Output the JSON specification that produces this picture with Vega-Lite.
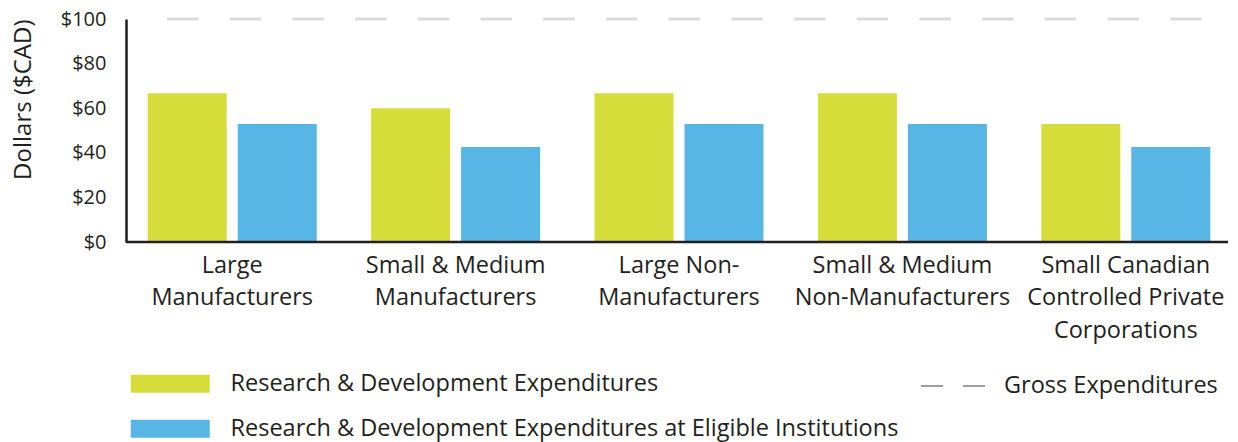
{
  "$schema": "https://vega.github.io/schema/vega-lite/v6.json",
  "autosize": "none",
  "width": 1117,
  "height": 223,
  "padding": {"left": 120.5, "top": 19, "right": 0.5, "bottom": 200},
  "background": "white",
  "config": {
    "view": {"stroke": null},
    "font": "Open Sans",
    "axis": {"labelFont": "Open Sans", "titleFont": "Open Sans", "labelColor": "#231f20", "titleColor": "#231f20"},
    "legend": {"labelFont": "Open Sans", "labelColor": "#231f20"}
  },
  "datasets": {
    "bars": [
      {"category": "Large Manufacturers", "series": "Research & Development Expenditures", "value": 66.7},
      {"category": "Large Manufacturers", "series": "Research & Development Expenditures at Eligible Institutions", "value": 52.9},
      {"category": "Small & Medium Manufacturers", "series": "Research & Development Expenditures", "value": 60},
      {"category": "Small & Medium Manufacturers", "series": "Research & Development Expenditures at Eligible Institutions", "value": 42.6},
      {"category": "Large Non-Manufacturers", "series": "Research & Development Expenditures", "value": 66.7},
      {"category": "Large Non-Manufacturers", "series": "Research & Development Expenditures at Eligible Institutions", "value": 52.9},
      {"category": "Small & Medium Non-Manufacturers", "series": "Research & Development Expenditures", "value": 66.7},
      {"category": "Small & Medium Non-Manufacturers", "series": "Research & Development Expenditures at Eligible Institutions", "value": 52.9},
      {"category": "Small Canadian Controlled Private Corporations", "series": "Research & Development Expenditures", "value": 52.9},
      {"category": "Small Canadian Controlled Private Corporations", "series": "Research & Development Expenditures at Eligible Institutions", "value": 42.6}
    ],
    "gross": [
      {"series": "Gross Expenditures", "value": 100, "from": "Large Manufacturers", "to": "Small Canadian Controlled Private Corporations"}
    ],
    "baseline": [
      {"value": 0, "from": "Large Manufacturers", "to": "Small Canadian Controlled Private Corporations"}
    ]
  },
  "layer": [
    {
      "data": {"name": "bars"},
      "mark": {"type": "bar"},
      "encoding": {
        "x": {
          "field": "category",
          "type": "nominal",
          "title": null,
          "scale": {
            "domain": ["Large Manufacturers", "Small & Medium Manufacturers", "Large Non-Manufacturers", "Small & Medium Non-Manufacturers", "Small Canadian Controlled Private Corporations"],
            "paddingInner": 0,
            "paddingOuter": 0
          },
          "axis": {
            "labelAngle": 0,
            "labelFontSize": 23.5,
            "labelLineHeight": 32.5,
            "labelPadding": 11,
            "labelBaseline": "top",
            "labelLimit": 500,
            "ticks": false,
            "domain": false,
            "labelExpr": "datum.value == 'Large Manufacturers' ? ['Large','Manufacturers'] : datum.value == 'Small & Medium Manufacturers' ? ['Small & Medium','Manufacturers'] : datum.value == 'Large Non-Manufacturers' ? ['Large Non-','Manufacturers'] : datum.value == 'Small & Medium Non-Manufacturers' ? ['Small & Medium','Non-Manufacturers'] : ['Small Canadian','Controlled Private','Corporations']"
          }
        },
        "xOffset": {
          "field": "series",
          "type": "nominal",
          "scale": {
            "domain": ["Research & Development Expenditures", "Research & Development Expenditures at Eligible Institutions"],
            "paddingInner": 0.1222,
            "paddingOuter": 0.302
          }
        },
        "y": {
          "field": "value",
          "type": "quantitative",
          "title": "Dollars ($CAD)",
          "scale": {"domain": [0, 100], "nice": false},
          "axis": {
            "offset": -5.5,
            "values": [0, 20, 40, 60, 80, 100],
            "format": "$d",
            "grid": false,
            "ticks": false,
            "labelFontSize": 20,
            "labelPadding": 20,
            "domainColor": "#231f20",
            "domainWidth": 2.5,
            "titleFontSize": 24,
            "titleFontWeight": "normal",
            "titleAnchor": "end",
            "titlePadding": 25
          }
        },
        "color": {
          "field": "series",
          "type": "nominal",
          "scale": {
            "domain": ["Research & Development Expenditures", "Research & Development Expenditures at Eligible Institutions"],
            "range": ["#d6dd3a", "#58b6e6"]
          },
          "legend": {
            "orient": "none",
            "legendX": 38,
            "legendY": 353,
            "direction": "vertical",
            "title": null,
            "padding": 0,
            "symbolType": "M-4.389,-1H4.389V1H-4.389Z",
            "symbolSize": 324,
            "symbolStrokeWidth": 0,
            "symbolOpacity": 1,
            "labelOffset": 48.5,
            "labelFontSize": 23.5,
            "labelLimit": 800,
            "rowPadding": 20
          }
        }
      }
    },
    {
      "data": {"name": "baseline"},
      "mark": {"type": "rule", "color": "#231f20", "strokeWidth": 2.5},
      "encoding": {
        "x": {"field": "from", "type": "nominal", "bandPosition": 0.0246},
        "x2": {"field": "to", "bandPosition": 0.9575},
        "y": {"field": "value", "type": "quantitative"}
      }
    },
    {
      "data": {"name": "gross"},
      "mark": {"type": "rule", "color": "#dcdcdc", "strokeWidth": 3, "strokeDash": [31.5, 31.2]},
      "encoding": {
        "x": {"field": "from", "type": "nominal", "bandPosition": 0.2081},
        "x2": {"field": "to", "bandPosition": 0.841},
        "y": {"field": "value", "type": "quantitative"}
      }
    },
    {
      "data": {"name": "gross"},
      "mark": {"type": "rule", "color": "#a0a0a0", "strokeWidth": 2},
      "encoding": {
        "x": {"field": "from", "type": "nominal", "bandPosition": 0.2081},
        "x2": {"field": "from", "bandPosition": 0.2081},
        "y": {"field": "value", "type": "quantitative"},
        "strokeDash": {
          "field": "series",
          "type": "nominal",
          "scale": {"domain": ["Gross Expenditures"], "range": [[22, 20]]},
          "legend": {
            "orient": "none",
            "legendX": 799.5,
            "legendY": 334,
            "title": null,
            "padding": 0,
            "symbolType": "stroke",
            "symbolSize": 4096,
            "symbolStrokeWidth": 2,
            "labelOffset": 18,
            "labelFontSize": 23.5,
            "labelLimit": 400
          }
        }
      }
    }
  ]
}
